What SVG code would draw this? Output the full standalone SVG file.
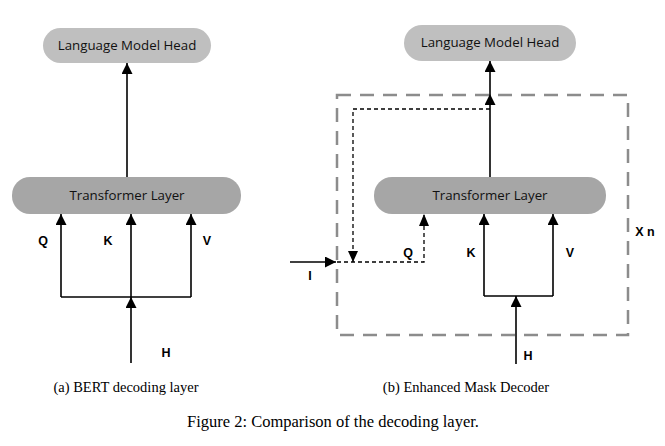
<svg xmlns="http://www.w3.org/2000/svg" width="665" height="446" viewBox="0 0 665 446">
<defs>
<marker id="ah" viewBox="0 0 10 10" refX="10" refY="5" markerWidth="11" markerHeight="11" markerUnits="userSpaceOnUse" orient="auto">
<path d="M0,0 L10,5 L0,10 z" fill="#000"/>
</marker>
<style>
.lm{fill:#bfbfbf}
.tl{fill:#a6a6a6}
.nt{font-family:"Open Sans","Liberation Sans",Arial,sans-serif;font-size:13.3px;fill:#111;text-anchor:middle}
.lb{font-family:"Liberation Sans",Arial,sans-serif;font-size:12.5px;font-weight:bold;fill:#000;text-anchor:middle}
.cap{font-family:"Liberation Serif","Times New Roman",serif;fill:#000;text-anchor:middle}
.ln{fill:none;stroke:#000;stroke-width:1.6}
.dl{fill:none;stroke:#000;stroke-width:1.3;stroke-dasharray:4,3}
.box{fill:none;stroke:#8c8c8c;stroke-width:2.5;stroke-dasharray:14,9}
</style>
</defs>
<rect width="665" height="446" fill="#fff"/>

<g id="a-lmhead"><rect class="lm" x="43" y="28" width="168" height="35" rx="17.5"/><text class="nt" x="127" y="50">Language Model Head</text></g>
<g id="a-transformer"><rect class="tl" x="12" y="177" width="229" height="37" rx="18"/><text class="nt" x="127" y="200">Transformer Layer</text></g>

<g id="b-loopbox"><rect class="box" x="337" y="95" width="291" height="240"/></g>
<g id="b-lmhead"><rect class="lm" x="404" y="25" width="172" height="36" rx="18"/><text class="nt" x="490" y="47">Language Model Head</text></g>
<g id="b-transformer"><rect class="tl" x="374" y="177" width="232" height="37" rx="18"/><text class="nt" x="490" y="200">Transformer Layer</text></g>

<g id="connectors">
<line class="ln" x1="127" y1="177" x2="127" y2="63" marker-end="url(#ah)"/>
<line class="ln" x1="61" y1="297" x2="61" y2="214" marker-end="url(#ah)"/>
<line class="ln" x1="131" y1="297" x2="131" y2="214" marker-end="url(#ah)"/>
<line class="ln" x1="191" y1="297" x2="191" y2="214" marker-end="url(#ah)"/>
<line class="ln" x1="61" y1="297" x2="191" y2="297"/>
<line class="ln" x1="131" y1="363" x2="131" y2="297" marker-end="url(#ah)"/>

<line class="ln" x1="490" y1="177" x2="490" y2="94" marker-end="url(#ah)"/>
<line class="ln" x1="490" y1="94" x2="490" y2="61" marker-end="url(#ah)"/>
<path class="dl" d="M490,109 H353 V262"/>
<path d="M348,251 L358,251 L353,262 z" fill="#000"/>
<path class="dl" d="M337,262 H424 V215"/>
<path d="M419,226 L429,226 L424,214 z" fill="#000"/>
<line class="ln" x1="290" y1="262" x2="336" y2="262" marker-end="url(#ah)"/>
<line class="ln" x1="484" y1="296" x2="484" y2="214" marker-end="url(#ah)"/>
<line class="ln" x1="553" y1="296" x2="553" y2="214" marker-end="url(#ah)"/>
<line class="ln" x1="484" y1="296" x2="553" y2="296"/>
<line class="ln" x1="516" y1="364" x2="516" y2="296" marker-end="url(#ah)"/>
</g>

<g id="labels">
<text class="lb" x="43" y="245">Q</text>
<text class="lb" x="108" y="245">K</text>
<text class="lb" x="207" y="245">V</text>
<text class="lb" x="166" y="357">H</text>
<text class="lb" x="408" y="257">Q</text>
<text class="lb" x="471" y="257">K</text>
<text class="lb" x="570" y="257">V</text>
<text class="lb" x="528" y="360">H</text>
<text class="lb" x="310" y="280">I</text>
<text class="lb" x="645" y="236">X n</text>
</g>

<g id="captions">
<text class="cap" x="126" y="392" font-size="14.5">(a) BERT decoding layer</text>
<text class="cap" x="466" y="392" font-size="14.5">(b) Enhanced Mask Decoder</text>
<text class="cap" x="333" y="427" font-size="16.5">Figure 2: Comparison of the decoding layer.</text>
</g>
</svg>
